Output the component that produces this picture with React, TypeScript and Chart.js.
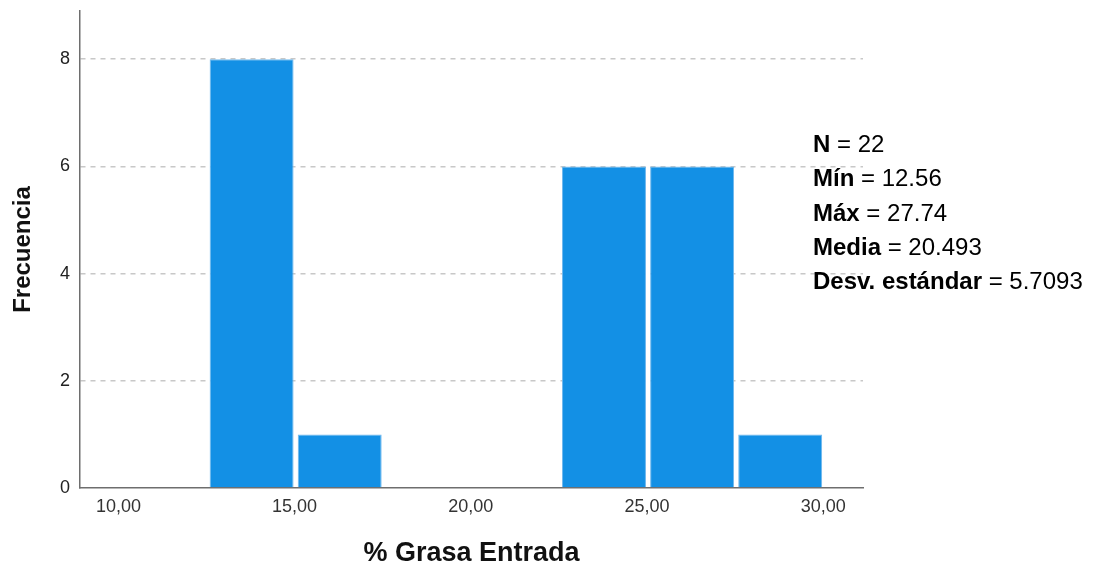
import React, { useEffect, useRef } from "react";
import { Chart, registerables } from "chart.js";

Chart.register(...registerables);

// Histogram bins (centers of the drawn bars) and frequencies
const binCenters = [13.78, 16.28, 18.78, 21.28, 23.78, 26.28, 28.78];
const frequencies = [8, 1, 0, 0, 6, 6, 1];

const xTickValues = [10, 15, 20, 25, 30];
const yTickValues = [0, 2, 4, 6, 8];
const xRange = [8.91, 31.13];
const yRange = [0, 8.9];

const xTitle = "% Grasa Entrada";
const yTitle = "Frecuencia";

const statLabels = ["N", "Mín", "Máx", "Media", "Desv. estándar"];
const statValues = ["22", "12.56", "27.74", "20.493", "5.7093"];

const FONT = "'Liberation Sans', Arial, sans-serif";

const statsPlugin = {
  id: "statsText",
  afterDraw(chart: any) {
    const ctx = chart.ctx;
    ctx.save();
    ctx.textBaseline = "alphabetic";
    ctx.textAlign = "left";
    ctx.fillStyle = "#000";
    const x0 = 813;
    const y0 = 152;
    const step = 34.3;
    statLabels.forEach((lab, i) => {
      const y = y0 + i * step;
      ctx.font = `bold 24px ${FONT}`;
      ctx.fillText(lab, x0, y);
      const w = ctx.measureText(lab).width;
      ctx.font = `24px ${FONT}`;
      ctx.fillText(" = " + statValues[i], x0 + w, y);
    });
    ctx.restore();
  },
};

export default function App() {
  const ref = useRef<HTMLCanvasElement | null>(null);

  useEffect(() => {
    if (!ref.current) return;
    const chart = new Chart(ref.current, {
      type: "bar",
      data: {
        datasets: [
          {
            data: binCenters.map((c, i) => ({ x: c, y: frequencies[i] })),
            backgroundColor: "#1390E5",
            borderColor: "#6fb8ee",
            borderWidth: 1,
            borderSkipped: "bottom",
            categoryPercentage: 1,
            barPercentage: 0.953,
          },
        ],
      },
      options: {
        animation: false,
        responsive: false,
        maintainAspectRatio: false,
        layout: { padding: { top: 11, right: 231, left: 0, bottom: 0 } },
        plugins: {
          legend: { display: false },
          tooltip: { enabled: false },
        },
        scales: {
          x: {
            type: "linear",
            min: xRange[0],
            max: xRange[1],
            offset: false,
            grid: { display: false, offset: false, drawTicks: false },
            border: { display: true, color: "#6e6e6e", width: 1.5 },
            afterBuildTicks: (s: any) => {
              s.ticks = xTickValues.map((v) => ({ value: v }));
            },
            afterFit: (s: any) => {
              s.height = 84;
              s.paddingLeft = 0;
              s.paddingRight = 0;
            },
            ticks: {
              autoSkip: false,
              maxRotation: 0,
              padding: 8,
              color: "#333",
              font: { family: FONT, size: 18 },
              callback: (v: any) => Number(v).toFixed(2).replace(".", ","),
            },
            title: {
              display: true,
              text: xTitle,
              color: "#111",
              font: { family: FONT, size: 27, weight: "bold" },
              padding: { top: 0, bottom: 2 },
            },
          },
          y: {
            type: "linear",
            min: yRange[0],
            max: yRange[1],
            grid: {
              drawTicks: false,
              color: (c: any) => (c.tick && c.tick.value === 0 ? "rgba(0,0,0,0)" : "#c8c8c8"),
              lineWidth: 1.5,
            },
            border: { display: true, color: "#6e6e6e", width: 1.5, dash: [5, 5] },
            afterBuildTicks: (s: any) => {
              s.ticks = yTickValues.map((v) => ({ value: v }));
            },
            afterFit: (s: any) => {
              s.width = 80;
              s.paddingTop = 0;
              s.paddingBottom = 0;
            },
            ticks: {
              padding: 10,
              color: "#222",
              font: { family: FONT, size: 18 },
            },
            title: {
              display: true,
              text: yTitle,
              color: "#111",
              font: { family: FONT, size: 24, weight: "bold" },
              padding: { top: 9, bottom: 0 },
            },
          },
        },
      },
      plugins: [statsPlugin],
    } as any);
    return () => chart.destroy();
  }, []);

  return (
    <div style={{ position: "fixed", left: 0, top: 0, width: 1094, height: 572, background: "#fff" }}>
      <canvas ref={ref} width={1094} height={572} style={{ width: 1094, height: 572, display: "block" }} />
    </div>
  );
}
